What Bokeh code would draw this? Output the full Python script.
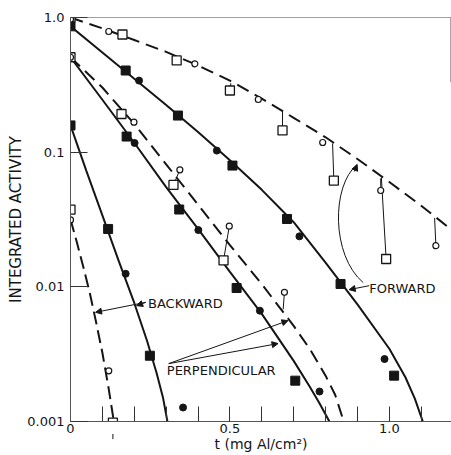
from bokeh.plotting import figure
from bokeh.models import FixedTicker, Span, Arrow, NormalHead, Title
from bokeh.core.properties import value
from bokeh.embed import file_html
from bokeh.resources import INLINE

# ---------------- data ----------------
# FORWARD, open symbols (dashed curve)
fwd_open_sq_x = [0.0, 0.163, 0.333, 0.50, 0.665, 0.826, 0.99]
fwd_open_sq_y = [1.0, 0.748, 0.48, 0.287, 0.145, 0.0615, 0.0161]
fwd_open_ci_x = [0.0, 0.12, 0.39, 0.589, 0.791, 0.973, 1.146]
fwd_open_ci_y = [0.97, 0.787, 0.453, 0.246, 0.118, 0.0519, 0.0202]
fwd_open_curve_x = [0.0, 0.1, 0.2, 0.3, 0.4, 0.5, 0.6, 0.7, 0.8, 0.9, 1.0, 1.1, 1.2]
fwd_open_curve_y = [1.0, 0.83, 0.68, 0.556, 0.44, 0.34, 0.25, 0.18, 0.129, 0.089, 0.060, 0.040, 0.026]
fwd_stem_x0 = [0.50, 0.665, 0.826, 0.973, 0.99, 1.146]
fwd_stem_y0 = [0.287, 0.145, 0.0615, 0.0519, 0.0161, 0.0202]
fwd_stem_x1 = [0.503, 0.665, 0.822, 0.973, 0.975, 1.142]
fwd_stem_y1 = [0.325, 0.204, 0.116, 0.064, 0.065, 0.0325]

# FORWARD, filled symbols (solid curve)
fwd_fill_sq_x = [0.0, 0.173, 0.337, 0.508, 0.679, 0.847, 1.015]
fwd_fill_sq_y = [0.86, 0.404, 0.187, 0.0795, 0.0319, 0.0105, 0.00219]
fwd_fill_ci_x = [0.215, 0.459, 0.718, 0.985]
fwd_fill_ci_y = [0.34, 0.1027, 0.0237, 0.00291]
fwd_fill_curve_x = [0.0, 0.1, 0.2, 0.3, 0.4, 0.5, 0.6, 0.7, 0.8, 0.9, 1.0, 1.05, 1.08, 1.105]
fwd_fill_curve_y = [0.859, 0.550, 0.351, 0.224, 0.141, 0.0871, 0.0525, 0.0302, 0.0151,
                    0.00741, 0.00347, 0.00214, 0.00148, 0.001]

# PERPENDICULAR, open symbols (dashed curve)
perp_open_sq_x = [0.0, 0.160, 0.323, 0.48]
perp_open_sq_y = [0.507, 0.192, 0.0571, 0.0157]
perp_open_ci_x = [0.0, 0.199, 0.343, 0.498, 0.671]
perp_open_ci_y = [0.507, 0.167, 0.074, 0.0282, 0.0091]
perp_open_curve_x = [0.0, 0.1, 0.2, 0.3, 0.4, 0.5, 0.6, 0.7, 0.75, 0.8, 0.83, 0.857]
perp_open_curve_y = [0.507, 0.302, 0.162, 0.0813, 0.0407, 0.0204, 0.01047, 0.00513,
                     0.00347, 0.00219, 0.00158, 0.001]
perp_stem_x0 = [0.343, 0.498, 0.671]
perp_stem_y0 = [0.074, 0.0282, 0.0091]
perp_stem_x1 = [0.323, 0.48, 0.667]
perp_stem_y1 = [0.0571, 0.0157, 0.0068]

# PERPENDICULAR, filled symbols (solid curve)
perp_fill_sq_x = [0.176, 0.341, 0.521, 0.705]
perp_fill_sq_y = [0.1306, 0.0375, 0.0098, 0.00201]
perp_fill_ci_x = [0.201, 0.401, 0.594, 0.781]
perp_fill_ci_y = [0.117, 0.0264, 0.00665, 0.00167]
perp_fill_curve_x = [0.0, 0.1, 0.2, 0.3, 0.4, 0.5, 0.6, 0.7, 0.75, 0.78, 0.812]
perp_fill_curve_y = [0.507, 0.245, 0.1175, 0.055, 0.0269, 0.0129, 0.0063, 0.00282,
                     0.00182, 0.00138, 0.001]

# BACKWARD, filled symbols (solid curve)
bwd_fill_sq_x = [0.0, 0.118, 0.249]
bwd_fill_sq_y = [0.158, 0.0269, 0.00308]
bwd_fill_ci_x = [0.173, 0.353]
bwd_fill_ci_y = [0.0125, 0.00127]
bwd_fill_curve_x = [0.0, 0.05, 0.1, 0.15, 0.2, 0.24, 0.27, 0.29, 0.304]
bwd_fill_curve_y = [0.158, 0.0724, 0.0339, 0.01585, 0.00759, 0.00398, 0.00229, 0.00151, 0.001]

# BACKWARD, open symbols (dashed curve)
bwd_open_sq_x = [0.0, 0.133]
bwd_open_sq_y = [0.0375, 0.00098]
bwd_open_ci_x = [0.0, 0.12]
bwd_open_ci_y = [0.0314, 0.00238]
bwd_open_curve_x = [0.0, 0.02, 0.04, 0.06, 0.08, 0.1, 0.12, 0.136]
bwd_open_curve_y = [0.0316, 0.0214, 0.0141, 0.00912, 0.0055, 0.00324, 0.00174, 0.001]

# axes
x_ticks = [0, 0.1, 0.2, 0.3, 0.4, 0.5, 0.6, 0.7, 0.8, 0.9, 1.0, 1.1]
x_tick_labels = {0: "0", 0.5: "0.5", 1.0: "1.0"}
y_ticks = [0.001, 0.01, 0.1, 1.0]
y_tick_labels = {0.001: "0.001", 0.01: "0.01", 0.1: "0.1", 1.0: "1.0"}
x_title = "t (mg Al/cm\u00b2)"
y_title = "INTEGRATED ACTIVITY"

# ---------------- figure ----------------
INK = "#151515"
FONT = "DejaVu Sans"

p = figure(width=451, height=455, x_range=(0, 1.195), y_range=(0.001, 1.0),
           y_axis_type="log", output_backend="svg", toolbar_location=None,
           min_border_left=70, min_border_right=0, min_border_top=17, min_border_bottom=34)
p.outline_line_color = None
p.grid.visible = False

for ax in (p.xaxis, p.yaxis):
    ax.axis_line_color = "#555555"
    ax.axis_line_width = 1
    ax.major_tick_line_color = "#333333"
    ax.major_tick_out = 0
    ax.minor_tick_line_color = None
    ax.major_label_text_font = FONT
    ax.major_label_text_font_size = "13px"
    ax.major_label_text_color = INK

p.xaxis.ticker = FixedTicker(ticks=x_ticks)
p.xaxis.major_label_overrides = {t: x_tick_labels.get(t, "") for t in x_ticks}
p.xaxis.major_tick_in = 15
p.xaxis.major_label_standoff = 2
p.xaxis.axis_label = x_title
p.xaxis.axis_label_standoff = 0
p.xaxis.axis_label_text_font = FONT
p.xaxis.axis_label_text_font_size = "14px"
p.xaxis.axis_label_text_font_style = "normal"
p.xaxis.axis_label_text_color = INK

p.yaxis.ticker = FixedTicker(ticks=y_ticks)
p.yaxis.major_label_overrides = dict(y_tick_labels)
p.yaxis.major_tick_in = 17
p.yaxis.major_label_standoff = 6

p.add_layout(Title(text=y_title, align="center", offset=19, standoff=0,
                   text_font=FONT, text_font_size="15px", text_font_style="normal",
                   text_color=INK), "left")

p.add_layout(Span(location=1.0, dimension="width", line_color="#444444", line_width=1))
p.segment(x0=[1.193], y0=[1.0], x1=[1.193], y1=[0.33], line_color="#777777", line_width=1)

# ---------------- curves ----------------
p.line(fwd_open_curve_x, fwd_open_curve_y, line_color=INK, line_width=2, line_dash="13 7")
p.line(fwd_fill_curve_x, fwd_fill_curve_y, line_color=INK, line_width=2)
p.line(perp_open_curve_x, perp_open_curve_y, line_color=INK, line_width=2, line_dash="13 7")
p.line(perp_fill_curve_x, perp_fill_curve_y, line_color=INK, line_width=2)
p.line(bwd_fill_curve_x, bwd_fill_curve_y, line_color=INK, line_width=2)
p.line(bwd_open_curve_x, bwd_open_curve_y, line_color=INK, line_width=2, line_dash="13 6")

# stems
p.segment(fwd_stem_x0, fwd_stem_y0, fwd_stem_x1, fwd_stem_y1, line_color=INK, line_width=1)
p.segment(perp_stem_x0, perp_stem_y0, perp_stem_x1, perp_stem_y1, line_color=INK, line_width=1)

# ---------------- markers ----------------
def open_sq(xs, ys):
    p.scatter(xs, ys, marker="square", size=9, fill_color="white", line_color=INK, line_width=1.3)

def open_ci(xs, ys):
    p.scatter(xs, ys, marker="circle", size=6, fill_color="white", line_color=INK, line_width=1.2)

def fill_sq(xs, ys):
    p.scatter(xs, ys, marker="square", size=9, fill_color=INK, line_color=INK, line_width=1)

def fill_ci(xs, ys):
    p.scatter(xs, ys, marker="circle", size=7, fill_color=INK, line_color=INK, line_width=1)

fill_sq(fwd_fill_sq_x, fwd_fill_sq_y)
fill_ci(fwd_fill_ci_x, fwd_fill_ci_y)
open_sq(fwd_open_sq_x, fwd_open_sq_y)
open_ci(fwd_open_ci_x, fwd_open_ci_y)
fill_sq(perp_fill_sq_x, perp_fill_sq_y)
fill_ci(perp_fill_ci_x, perp_fill_ci_y)
open_sq(perp_open_sq_x, perp_open_sq_y)
open_ci(perp_open_ci_x, perp_open_ci_y)
fill_sq(bwd_fill_sq_x, bwd_fill_sq_y)
fill_ci(bwd_fill_ci_x, bwd_fill_ci_y)
open_sq(bwd_open_sq_x, bwd_open_sq_y)
open_ci(bwd_open_ci_x, bwd_open_ci_y)

# ---------------- labels with leaders ----------------
def arrow(x0, y0, x1, y1, size=6):
    p.add_layout(Arrow(end=NormalHead(size=size, fill_color=INK, line_color=INK, line_width=1),
                       x_start=x0, y_start=y0, x_end=x1, y_end=y1,
                       line_color=INK, line_width=1))

p.text(x=[0.937], y=[0.0097], text=["FORWARD"], text_font=value(FONT), text_font_size="13px",
       text_color=INK, text_baseline="middle", text_align="left")
arrow(0.937, 0.0102, 0.874, 0.00953)
p.bezier(x0=[0.918], y0=[0.01075], x1=[0.899], y1=[0.0809],
         cx0=[0.818], cy0=[0.01706], cx1=[0.818], cy1=[0.0565], line_color=INK, line_width=1)
arrow(0.890, 0.0718, 0.899, 0.0809)

p.text(x=[0.243], y=[0.00754], text=["BACKWARD"], text_font=value(FONT), text_font_size="13px",
       text_color=INK, text_baseline="middle", text_align="left")
arrow(0.236, 0.00767, 0.2075, 0.00725)
arrow(0.236, 0.00767, 0.0786, 0.00647)

p.text(x=[0.302], y=[0.00238], text=["PERPENDICULAR"], text_font=value(FONT), text_font_size="13px",
       text_color=INK, text_baseline="middle", text_align="left")
arrow(0.308, 0.00269, 0.682, 0.00561)
arrow(0.308, 0.00269, 0.651, 0.00379)

# arrow below the last backward open point
arrow(0.133, 0.00091, 0.133, 0.00074, size=5)

open("out.html", "w").write(file_html(p, INLINE))
